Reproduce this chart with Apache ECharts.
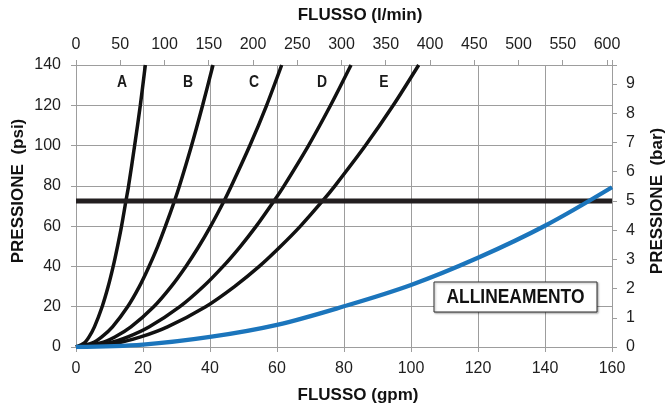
<!DOCTYPE html>
<html>
<head>
<meta charset="utf-8">
<script src="https://cdn.jsdelivr.net/npm/echarts@6/dist/echarts.min.js"></script>
<style>
  html, body { margin: 0; padding: 0; background: #fff; }
  #chart { width: 668px; height: 409px; }
</style>
</head>
<body>
<div id="chart"></div>
<script>
// Pressure levels (psi) at which the nozzle curves are tabulated
const pressureLevels = [0, 2, 5, 10, 20, 30, 40, 50, 60, 72.5, 80, 100, 120, 140];
// Flow (gpm) of each nozzle curve at the pressure levels above
const curveA = [0, 2.5, 3.9, 5.5, 7.8, 9.6, 11.1, 12.4, 13.6, 14.9, 15.7, 17.5, 19.2, 20.7];
const curveB = [0, 4.9, 7.7, 10.9, 15.4, 18.9, 21.8, 24.4, 26.7, 29.4, 30.9, 34.5, 37.8, 40.9];
const curveC = [0, 7.3, 11.6, 16.4, 23.2, 28.4, 32.8, 36.7, 40.2, 44.2, 46.4, 51.9, 56.9, 61.4];
const curveD = [0, 9.8, 15.5, 21.9, 31.0, 38.0, 43.9, 49.1, 53.8, 59.1, 62.1, 69.4, 76.0, 82.1];
const curveE = [0, 12.2, 19.3, 27.3, 38.7, 47.3, 54.7, 61.1, 67.0, 73.6, 77.3, 86.4, 94.7, 102.3];
const curveNames = ['A', 'B', 'C', 'D', 'E'];

// "ALLINEAMENTO" curve: flow (gpm) and pressure (psi)
const alignFlow = [0, 20, 40, 60, 80, 100, 120, 140, 160];
const alignPsi = [0, 1.2, 5.0, 11.0, 20.2, 30.8, 44.3, 60.2, 79.3];

// Reference pressure line, in bar
const limitBar = 5;

// Axis ranges and unit conversions
const gpmMax = 160;
const psiMax = 140;
const LPM_PER_GPM = 3.78541;
const PSI_PER_BAR = 14.5038;

const FONT = "'Liberation Sans', Arial, sans-serif";
const GRID_GRAY = '#9d9d9d';

function pairs(xs, ys) { return xs.map((x, i) => [x, ys[i]]); }

const nozzleSeries = [curveA, curveB, curveC, curveD, curveE].map((flows, i) => ({
  name: curveNames[i],
  type: 'line',
  xAxisIndex: 0, yAxisIndex: 0,
  data: pairs(flows, pressureLevels),
  smooth: 0.3,
  showSymbol: false,
  lineStyle: { color: '#111', width: 3.5 },
  z: 3
}));

// Condensed bold caption (letters above the curves)
const letterX = [122, 188, 254, 322, 384];
const letterGraphics = curveNames.map((n, i) => ({
  type: 'text', x: letterX[i], y: 82, scaleX: 0.82,
  style: { text: n, font: 'bold 17px ' + FONT, fill: '#1a1a1a', align: 'center', verticalAlign: 'middle' }
}));

const chart = echarts.init(document.getElementById('chart'), null, { renderer: 'canvas' });

const axisLabelBase = { fontSize: 16, color: '#1e1e1e', fontFamily: FONT };

chart.setOption({
  animation: false,
  grid: { left: 76, right: 56, top: 65, bottom: 62 },
  xAxis: [
    {
      type: 'value', min: 0, max: gpmMax, interval: 20, position: 'bottom',
      axisLine: { show: true, onZero: false, lineStyle: { color: GRID_GRAY, width: 1 } },
      axisTick: { show: true, length: 5, lineStyle: { color: GRID_GRAY } },
      axisLabel: Object.assign({ margin: 14 }, axisLabelBase),
      splitLine: { show: true, lineStyle: { color: GRID_GRAY, width: 1 } }
    },
    {
      type: 'value', min: 0, max: gpmMax * LPM_PER_GPM, interval: 50, position: 'top',
      axisLine: { show: true, onZero: false, lineStyle: { color: GRID_GRAY, width: 1 } },
      axisTick: { show: true, length: 5, lineStyle: { color: GRID_GRAY } },
      axisLabel: Object.assign({
        margin: 12,
        formatter: v => (Math.abs(v % 50) < 1e-6 ? String(v) : '')
      }, axisLabelBase),
      splitLine: { show: false }
    }
  ],
  yAxis: [
    {
      type: 'value', min: 0, max: psiMax, interval: 20, position: 'left',
      axisLine: { show: true, onZero: false, lineStyle: { color: GRID_GRAY, width: 1 } },
      axisTick: { show: true, length: 5, lineStyle: { color: GRID_GRAY } },
      axisLabel: Object.assign({ margin: 15 }, axisLabelBase),
      splitLine: { show: true, lineStyle: { color: GRID_GRAY, width: 1 } }
    },
    {
      type: 'value', min: 0, max: psiMax / PSI_PER_BAR, interval: 1, position: 'right',
      axisLine: { show: true, onZero: false, lineStyle: { color: GRID_GRAY, width: 1 } },
      axisTick: { show: true, length: 5, lineStyle: { color: GRID_GRAY } },
      axisLabel: Object.assign({
        margin: 14,
        formatter: v => (Math.abs(v - Math.round(v)) < 1e-6 ? String(Math.round(v)) : '')
      }, axisLabelBase),
      splitLine: { show: false }
    }
  ],
  series: nozzleSeries.concat([
    {
      name: '5 bar',
      type: 'line',
      xAxisIndex: 0, yAxisIndex: 0,
      data: [[0, limitBar * PSI_PER_BAR], [gpmMax, limitBar * PSI_PER_BAR]],
      showSymbol: false,
      lineStyle: { color: '#231f20', width: 5 },
      z: 4
    },
    {
      name: 'ALLINEAMENTO',
      type: 'line',
      xAxisIndex: 0, yAxisIndex: 0,
      data: pairs(alignFlow, alignPsi),
      smooth: 0.35,
      showSymbol: false,
      lineStyle: { color: '#1b75bc', width: 4.3 },
      z: 5
    }
  ]),
  graphic: [
    { type: 'text', x: 360, y: 15, style: { text: 'FLUSSO (l/min)', font: 'bold 17px ' + FONT, fill: '#111', align: 'center', verticalAlign: 'middle' } },
    { type: 'text', x: 358, y: 395, style: { text: 'FLUSSO (gpm)', font: 'bold 17px ' + FONT, fill: '#111', align: 'center', verticalAlign: 'middle' } },
    { type: 'text', x: 18, y: 191, rotation: Math.PI / 2, style: { text: 'PRESSIONE  (psi)', font: 'bold 17px ' + FONT, fill: '#111', align: 'center', verticalAlign: 'middle' } },
    { type: 'text', x: 657, y: 201, rotation: Math.PI / 2, style: { text: 'PRESSIONE  (bar)', font: 'bold 17px ' + FONT, fill: '#111', align: 'center', verticalAlign: 'middle' } },
    {
      type: 'rect', z: 10,
      shape: { x: 434, y: 282, width: 163, height: 30 },
      style: { fill: '#fff', stroke: '#333', lineWidth: 1, shadowColor: 'rgba(0,0,0,0.35)', shadowBlur: 2, shadowOffsetX: 1, shadowOffsetY: 1 }
    },
    { type: 'text', z: 11, x: 515.5, y: 297.5, scaleX: 0.87, style: { text: 'ALLINEAMENTO', font: 'bold 20px ' + FONT, fill: '#111', align: 'center', verticalAlign: 'middle' } }
  ].concat(letterGraphics)
});
</script>
</body>
</html>
